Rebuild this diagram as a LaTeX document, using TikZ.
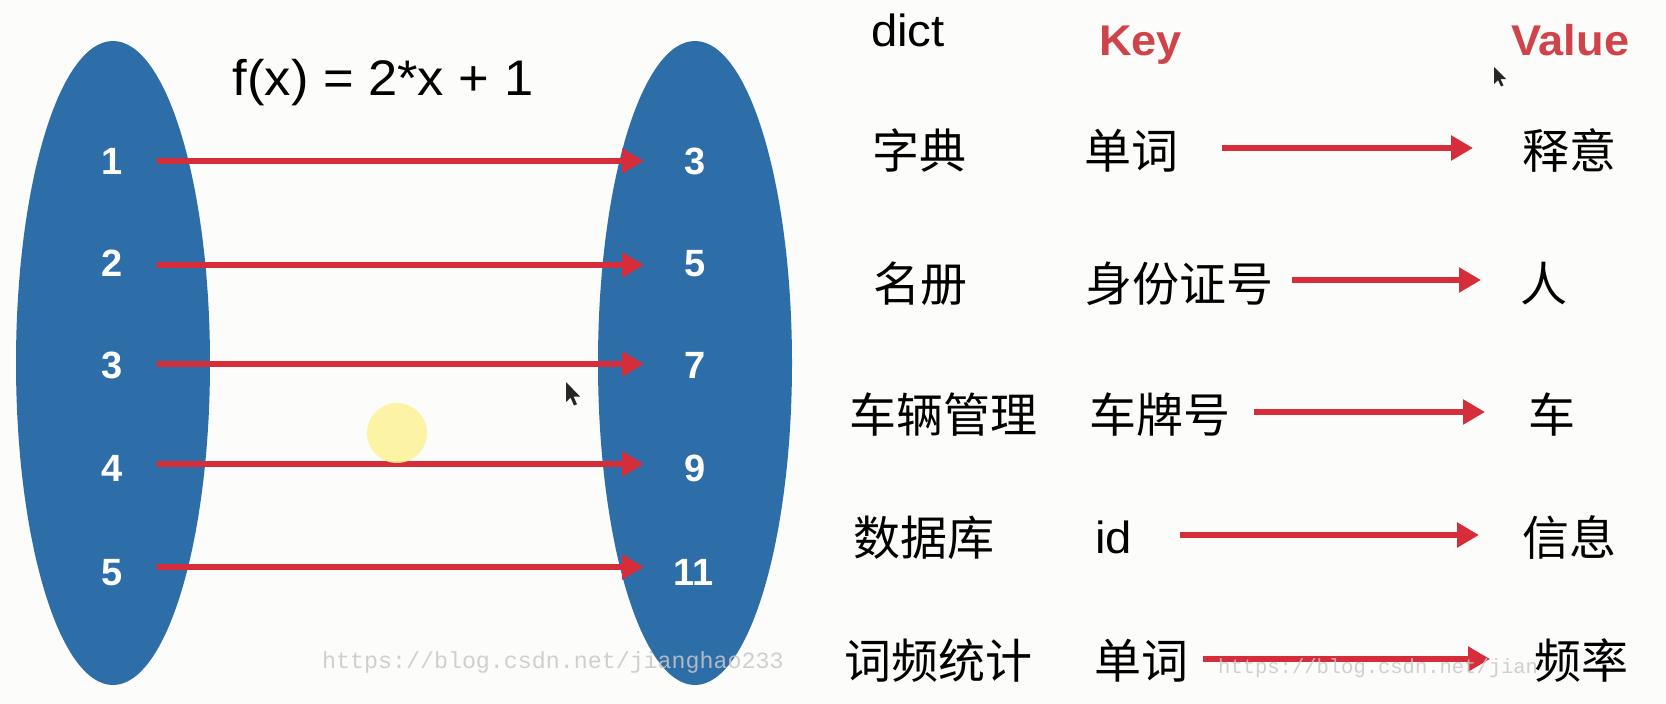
\documentclass[tikz,border=0pt]{standalone}
\usepackage{fontspec}
\setmainfont{Liberation Sans}
\newfontfamily\latfam{Liberation Sans}[FakeStretch=1.05]
\newfontfamily\cjkfam{Noto Sans CJK SC}
\newfontfamily\wmfam{Liberation Mono}
\usetikzlibrary{arrows.meta}
\definecolor{ellblue}{RGB}{45,110,169}
\definecolor{arrred}{RGB}{214,45,58}
\definecolor{keyred}{RGB}{206,68,74}
\definecolor{wmgray}{RGB}{200,200,200}
\definecolor{bgcol}{RGB}{252,252,250}
\definecolor{hilite}{RGB}{252,242,150}
\newcommand{\numfnt}{\bfseries\fontsize{38}{40}\selectfont}
\newcommand{\cjkfnt}{\cjkfam\fontsize{47}{50}\selectfont}
\newcommand{\latfnt}{\latfam\fontsize{45}{48}\selectfont}
\newcommand{\hdrfnt}{\latfam\bfseries\fontsize{43}{46}\selectfont}
\newcommand{\titlefnt}{\latfam\fontsize{50}{54}\selectfont}
\newcommand{\wmfnt}{\wmfam\fontsize{23.3}{25}\selectfont}
\newcommand{\wmsmallfnt}{\wmfam\fontsize{20.5}{22}\selectfont}
\tikzset{
  num/.style={text=white, font=\numfnt, inner sep=0pt, anchor=base},
  cn/.style={font=\cjkfnt, inner sep=0pt, anchor=base west},
  lat/.style={font=\latfnt, inner sep=0pt, anchor=base west},
  hdr/.style={font=\hdrfnt, text=keyred, inner sep=0pt, anchor=base west},
  arr/.style={draw=arrred, line width=6.5pt, -{Triangle[length=22pt,width=24pt]}},
  blob/.style={fill=ellblue, draw=none},
  wmark/.style={font=\wmfnt, text=wmgray, inner sep=0pt, anchor=base west, opacity=0.85},
  pointer/.style={fill=black!85, draw=none},
}
\begin{document}
\begin{tikzpicture}[x=1pt,y=-1pt]
\useasboundingbox (0,0) rectangle (1666,704);
\fill[bgcol] (0,0) rectangle (1666,704);
\clip (0,0) rectangle (1666,704);

% ellipses
\fill[blob] (113,363) ellipse [x radius=97, y radius=322];
\fill[blob] (695,363) ellipse [x radius=97, y radius=322];

% title
\node[font=\titlefnt, inner sep=0pt, anchor=base] (title) at (383,95) {f(x) = 2*x + 1};

% left numbers
\node[num] (l1) at (112,174) {1};
\node[num] (l2) at (112,276) {2};
\node[num] (l3) at (112,378) {3};
\node[num] (l4) at (112,481) {4};
\node[num] (l5) at (112,585) {5};
% right numbers
\node[num] (r1) at (695,174) {3};
\node[num] (r2) at (695,276) {5};
\node[num] (r3) at (695,378) {7};
\node[num] (r4) at (695,481) {9};
\node[num] (r5) at (694,585) {11};

% arrow end points (left diagram)
\coordinate (la1) at (157,161); \coordinate (ra1) at (644,161);
\coordinate (la2) at (157,265); \coordinate (ra2) at (644,265);
\coordinate (la3) at (157,364); \coordinate (ra3) at (644,364);
\coordinate (la4) at (157,464); \coordinate (ra4) at (644,464);
\coordinate (la5) at (157,567); \coordinate (ra5) at (644,567);
\draw[arr] (la1) -- (ra1);
\draw[arr] (la2) -- (ra2);
\draw[arr] (la3) -- (ra3);
\draw[arr] (la4) -- (ra4);
\draw[arr] (la5) -- (ra5);

% highlight circle
\fill[hilite, opacity=0.85] (397,433) circle [radius=30];

% mouse pointers
\fill[pointer] (566,382) -- ++(0,20) -- ++(4.5,-4.5) -- ++(3.5,8) -- ++(3,-1.3) -- ++(-3.5,-7.7) -- ++(6.5,0) -- cycle;
\fill[pointer] (1494,67) -- ++(0,17) -- ++(4,-4) -- ++(3,6.5) -- ++(2.5,-1.1) -- ++(-3,-6.4) -- ++(5.5,0) -- cycle;

% right table arrows
\coordinate (k1) at (1222,148); \coordinate (v1) at (1473,148);
\coordinate (k2) at (1292,280); \coordinate (v2) at (1481,280);
\coordinate (k3) at (1254,412); \coordinate (v3) at (1485,412);
\coordinate (k4) at (1180,535); \coordinate (v4) at (1479,535);
\coordinate (k5) at (1203,659); \coordinate (v5) at (1490,659);
\draw[arr] (k1) -- (v1);
\draw[arr] (k2) -- (v2);
\draw[arr] (k3) -- (v3);
\draw[arr] (k4) -- (v4);
\draw[arr] (k5) -- (v5);

% watermarks
\node[wmark] (wm1) at (322,668) {https://blog.csdn.net/jianghao233};
\node[wmark, font=\wmsmallfnt] (wm2) at (1218,673) {https://blog.csdn.net/jian};

% headers
\node[lat] (dict) at (871,46) {dict};
\node[hdr] (key) at (1099,55) {Key};
\node[hdr] (value) at (1511,55) {Value};

% rows
\node[cn] (c1) at (872,168) {字典};
\node[cn] (kk1) at (1084,168) {单词};
\node[cn] (vv1) at (1522,168) {释意};

\node[cn] (c2) at (873,301) {名册};
\node[cn] (kk2) at (1085,301) {身份证号};
\node[cn] (vv2) at (1520,301) {人};

\node[cn] (c3) at (849,432) {车辆管理};
\node[cn] (kk3) at (1089,432) {车牌号};
\node[cn] (vv3) at (1528,432) {车};

\node[cn] (c4) at (853,555) {数据库};
\node[lat] (kk4) at (1095,553) {id};
\node[cn] (vv4) at (1522,555) {信息};

\node[cn] (c5) at (844,678) {词频统计};
\node[cn] (kk5) at (1094,678) {单词};
\node[cn] (vv5) at (1534,678) {频率};
\end{tikzpicture}
\end{document}
